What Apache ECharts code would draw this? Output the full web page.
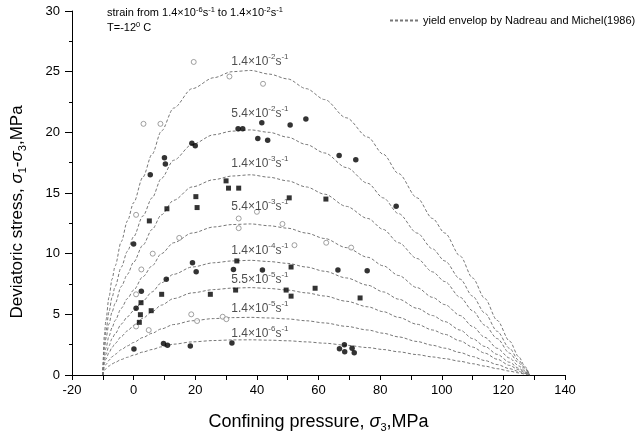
<!DOCTYPE html>
<html>
<head>
<meta charset="utf-8">
<script src="https://cdn.jsdelivr.net/npm/echarts@6/dist/echarts.min.js"></script>
<style>
html, body { margin: 0; padding: 0; background: #fff; }
#main { width: 637px; height: 440px; }
</style>
</head>
<body>
<div id="main"></div>
<script>
var chartDom = document.getElementById('main');
var myChart = echarts.init(chartDom);
var option;

var envX = [-10, -9.5, -9, -8, -7, -6, -4, -2, 0, 3, 6, 9, 13, 19, 26, 32, 38, 44, 50, 56, 62, 69, 76, 81, 86, 92, 97, 101, 106, 110, 114, 118, 122, 125, 127, 128.5];
// yield envelopes, one per strain rate (deviatoric stress, MPa)
var env1 = [0, 3.3, 4.5, 6.4, 7.9, 9.0, 11.0, 12.7, 14.2, 16.3, 18.2, 20.1, 22.0, 23.6, 24.5, 25.0, 25.1, 24.8, 24.4, 23.6, 22.7, 21.2, 19.6, 18.2, 16.6, 14.6, 12.9, 11.7, 9.8, 8.0, 6.3, 4.5, 2.8, 1.5, 0.7, 0];
var env2 = [0, 2.6, 3.6, 5.2, 6.4, 7.3, 8.9, 10.2, 11.4, 13.1, 14.6, 16.2, 17.7, 19.0, 19.8, 20.1, 20.2, 20.0, 19.6, 19.0, 18.3, 17.1, 15.8, 14.6, 13.3, 11.7, 10.4, 9.4, 7.9, 6.5, 5.1, 3.6, 2.2, 1.2, 0.6, 0];
var env3 = [0, 2.1, 3.0, 4.2, 5.2, 5.9, 7.3, 8.3, 9.3, 10.7, 12.0, 13.2, 14.4, 15.5, 16.1, 16.4, 16.5, 16.3, 16.0, 15.5, 14.9, 13.9, 12.9, 12.0, 10.9, 9.6, 8.5, 7.7, 6.4, 5.3, 4.1, 3.0, 1.8, 1.0, 0.5, 0];
var env4 = [0, 1.6, 2.2, 3.2, 3.9, 4.5, 5.5, 6.3, 7.0, 8.1, 9.0, 10.0, 10.9, 11.7, 12.2, 12.4, 12.45, 12.3, 12.1, 11.7, 11.25, 10.5, 9.7, 9.0, 8.2, 7.2, 6.4, 5.8, 4.9, 4.0, 3.1, 2.2, 1.4, 0.75, 0.35, 0];
var env5 = [0, 1.2, 1.7, 2.4, 3.0, 3.4, 4.2, 4.8, 5.3, 6.1, 6.85, 7.6, 8.3, 8.9, 9.25, 9.4, 9.45, 9.35, 9.2, 8.9, 8.55, 8.0, 7.4, 6.85, 6.25, 5.5, 4.9, 4.4, 3.7, 3.0, 2.35, 1.7, 1.05, 0.55, 0.25, 0];
var env6 = [0, 0.94, 1.3, 1.84, 2.27, 2.6, 3.17, 3.64, 4.07, 4.68, 5.22, 5.76, 6.3, 6.77, 7.04, 7.16, 7.2, 7.13, 7.0, 6.77, 6.51, 6.08, 5.62, 5.22, 4.75, 4.18, 3.71, 3.35, 2.81, 2.3, 1.8, 1.3, 0.79, 0.43, 0.2, 0];
var env7 = [0, 0.62, 0.86, 1.21, 1.5, 1.71, 2.09, 2.4, 2.68, 3.09, 3.44, 3.8, 4.16, 4.47, 4.65, 4.73, 4.75, 4.7, 4.62, 4.47, 4.29, 4.01, 3.71, 3.44, 3.14, 2.76, 2.45, 2.21, 1.85, 1.52, 1.19, 0.86, 0.52, 0.29, 0.13, 0];
var env8 = [0, 0.38, 0.52, 0.74, 0.91, 1.04, 1.28, 1.46, 1.64, 1.89, 2.1, 2.32, 2.54, 2.73, 2.84, 2.89, 2.9, 2.87, 2.82, 2.73, 2.62, 2.45, 2.26, 2.1, 1.91, 1.68, 1.49, 1.35, 1.13, 0.93, 0.73, 0.52, 0.32, 0.17, 0.08, 0];
var envelopes = [env1, env2, env3, env4, env5, env6, env7, env8];

// strain rate labels on the envelopes
var rateBase = ['1.4', '5.4', '1.4', '5.4', '1.4', '5.5', '1.4', '1.4'];
var rateExp = ['-2', '-2', '-3', '-3', '-4', '-5', '-5', '-6'];
var rateLabelX = 31.7;
var rateLabelY = [25.8, 21.5, 17.4, 13.9, 10.25, 7.83, 5.44, 3.38];

// test results [confining pressure, deviatoric stress]
var openCircles = [
    [19.5, 25.8], [31.1, 24.6], [42.0, 24.0], [3.2, 20.7], [8.7, 20.7],
    [0.8, 13.2], [34.1, 12.9], [34.1, 12.1], [40.0, 13.45], [48.3, 12.45],
    [14.8, 11.3], [6.2, 10.0], [2.5, 8.7], [52.2, 10.7], [62.5, 10.9], [70.6, 10.5],
    [0.8, 6.65], [0.8, 4.0], [4.9, 3.7], [18.7, 5.0], [20.6, 4.45], [28.9, 4.8], [30.1, 4.6]
];
var filledCircles = [
    [33.9, 20.3], [35.4, 20.3], [41.6, 20.8], [50.8, 20.6], [55.9, 21.1],
    [40.3, 19.5], [43.5, 19.35], [18.9, 19.1], [20.0, 18.9], [10.0, 17.9],
    [10.3, 17.4], [5.4, 16.5], [66.7, 18.1], [72.1, 17.75], [85.2, 13.9],
    [0, 10.8], [19.1, 9.26], [20.3, 8.5], [32.4, 8.7], [10.6, 7.9], [2.5, 6.9],
    [0.8, 5.5], [41.8, 8.66], [66.3, 8.66], [75.8, 8.6],
    [0.1, 2.14], [9.7, 2.6], [11.0, 2.45], [18.4, 2.4], [31.9, 2.64],
    [66.8, 2.17], [68.4, 2.5], [68.5, 1.92], [70.9, 2.2], [71.6, 1.84]
];
var filledSquares = [
    [30.0, 16.0], [30.8, 15.4], [34.1, 15.4], [20.2, 14.7], [20.6, 13.8],
    [10.8, 13.7], [5.1, 12.7], [50.5, 14.6], [62.4, 14.5], [33.5, 9.4],
    [51.1, 8.9], [33.1, 7.0], [24.9, 6.65], [9.1, 6.65], [5.7, 5.3],
    [2.4, 5.96], [2.2, 4.97], [1.85, 4.34], [49.5, 7.0], [51.1, 6.5],
    [58.9, 7.15], [73.5, 6.35]
];

var envName = 'yield envelop by Nadreau and Michel(1986)';
var font = 'Liberation Sans';

var series = envelopes.map(function (env) {
    return {
        name: envName,
        type: 'line',
        symbol: 'none',
        smooth: 0.3,
        smoothMonotone: 'x',
        data: envX.map(function (x, i) { return [x, env[i]]; }),
        itemStyle: { color: '#777' },
        lineStyle: { color: '#777', width: 1, type: [3, 2] },
        z: 2
    };
});

series.push({
    type: 'scatter',
    symbol: 'circle',
    symbolSize: 5,
    data: openCircles,
    itemStyle: { color: '#fff', borderColor: '#888', borderWidth: 1 },
    z: 3
});
series.push({
    type: 'scatter',
    symbol: 'circle',
    symbolSize: 5.5,
    data: filledCircles,
    itemStyle: { color: '#000' },
    z: 3
});
series.push({
    type: 'scatter',
    symbol: 'rect',
    symbolSize: 5,
    data: filledSquares,
    itemStyle: { color: '#000' },
    z: 3
});
series.push({
    type: 'scatter',
    symbolSize: 0,
    silent: true,
    data: rateLabelY.map(function (y) { return [rateLabelX, y]; }),
    label: {
        show: true,
        position: 'right',
        distance: 0,
        formatter: function (p) {
            return '{m|' + rateBase[p.dataIndex] + '×10}{s|' + rateExp[p.dataIndex] + '}{m|s}{s|-1}';
        },
        rich: {
            m: { fontSize: 12, fontFamily: font, color: '#222', lineHeight: 18 },
            s: { fontSize: 8, fontFamily: font, color: '#222', verticalAlign: 'top' }
        }
    },
    z: 4
});

var nameRich = {
    t: { fontSize: 17, fontFamily: font, color: '#000', lineHeight: 22 },
    i: { fontSize: 17, fontFamily: font, fontStyle: 'italic', color: '#000' },
    b: { fontSize: 11, fontFamily: font, color: '#000', verticalAlign: 'bottom' }
};
var xNameRich = {
    t: { fontSize: 18, fontFamily: font, color: '#000', lineHeight: 22 },
    i: { fontSize: 18, fontFamily: font, fontStyle: 'italic', color: '#000' },
    b: { fontSize: 11, fontFamily: font, color: '#000', verticalAlign: 'bottom' }
};
var noteRich = { s: { fontSize: 7.5, fontFamily: font, fill: '#000', verticalAlign: 'top' } };

option = {
    animation: false,
    textStyle: { fontFamily: font },
    grid: { left: 72, right: 72, top: 11, bottom: 65, containLabel: false, outerBoundsMode: 'none' },
    legend: {
        data: [envName],
        left: 384,
        top: 10,
        itemWidth: 28,
        itemHeight: 10,
        itemStyle: { opacity: 0 },
        textStyle: { fontSize: 11, fontFamily: font, color: '#000' }
    },
    graphic: [
        {
            type: 'text', left: 107, top: 6,
            style: {
                text: 'strain from 1.4×10{s|-6}s{s|-1} to 1.4×10{s|-2}s{s|-1}',
                fontSize: 11, fontFamily: font, fill: '#000', lineHeight: 14,
                rich: noteRich
            }
        },
        {
            type: 'text', left: 107, top: 21,
            style: {
                text: 'T=-12{s|0} C',
                fontSize: 11, fontFamily: font, fill: '#000', lineHeight: 14,
                rich: noteRich
            }
        }
    ],
    xAxis: {
        type: 'value',
        min: -20,
        max: 140,
        interval: 10,
        splitLine: { show: false },
        axisLine: { onZero: false, lineStyle: { color: '#000', width: 1 } },
        axisTick: { length: 5, lineStyle: { color: '#000' } },
        axisLabel: {
            color: '#000', fontSize: 13, margin: 9,
            formatter: function (v) { return v % 20 === 0 ? String(v) : ''; }
        },
        name: '{t|Confining pressure, }{i|σ}{b|3}{t|,MPa}',
        nameLocation: 'middle',
        nameGap: 36,
        nameTextStyle: { rich: xNameRich }
    },
    yAxis: {
        type: 'value',
        min: 0,
        max: 30,
        interval: 5,
        splitLine: { show: false },
        axisLine: { show: true, onZero: false, lineStyle: { color: '#000', width: 1 } },
        axisTick: { show: true, length: 7, lineStyle: { color: '#000' } },
        minorTick: { show: true, splitNumber: 2, length: 3, lineStyle: { color: '#000' } },
        axisLabel: { color: '#000', fontSize: 13, margin: 12 },
        name: '{t|Deviatoric stress, }{i|σ}{b|1}{t|-}{i|σ}{b|3}{t|,MPa}',
        nameLocation: 'middle',
        nameGap: 44,
        nameTextStyle: { padding: [0, 38, 0, 0], rich: nameRich }
    },
    series: series
};

option && myChart.setOption(option);
</script>
</body>
</html>
